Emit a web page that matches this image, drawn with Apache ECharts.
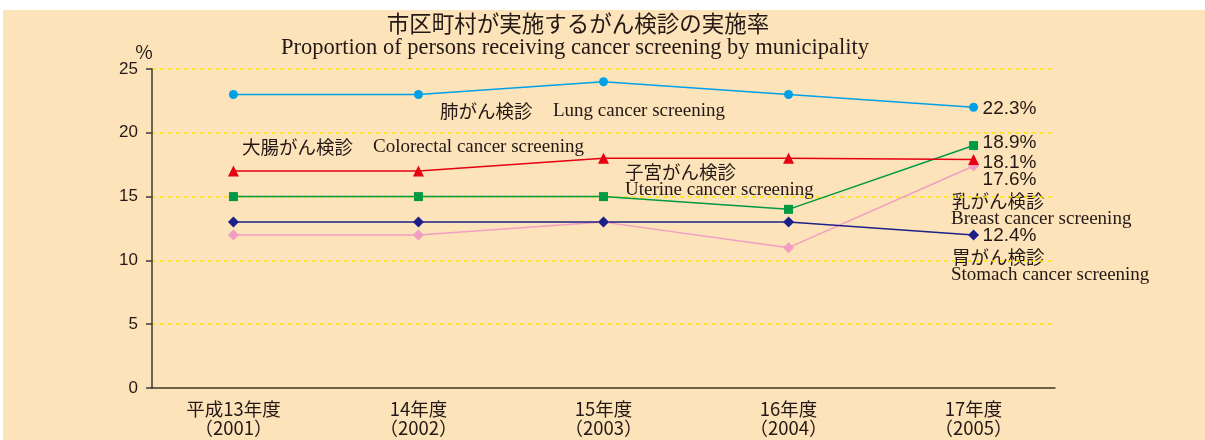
<!DOCTYPE html>
<html>
<head>
<meta charset="utf-8">
<script src="https://cdn.jsdelivr.net/npm/echarts@6/dist/echarts.min.js"></script>
<style>
html, body { margin: 0; padding: 0; background: #ffffff; }
#main { width: 1205px; height: 440px; }
</style>
</head>
<body>
<div id="main"></div>
<script>
var years = ['平成13年度\n（2001）', '14年度\n（2002）', '15年度\n（2003）', '16年度\n（2004）', '17年度\n（2005）'];
var yTicks = [0, 5, 10, 15, 20, 25];

var lung = [23, 23, 24, 23, 22];
var colorectal = [17, 17, 18, 18, 17.9];
var uterine = [15, 15, 15, 14, 19];
var stomach = [13, 13, 13, 13, 12];
var breast = [12, 12, 13, 11, 17.4];

var lungLast = '22.3%';
var colorectalLast = '18.1%';
var uterineLast = '18.9%';
var stomachLast = '12.4%';
var breastLast = '17.6%';

var jp = '"Noto Sans CJK JP", sans-serif';
var serif = '"Liberation Serif", "DejaVu Serif", serif';
var sans = '"Liberation Sans", Arial, sans-serif';
var ink = '#231815';

function pts(arr){
    return arr.map(function(v, i){ return [i, v]; });
}

function line(name, arr, color, symbol, size, last, dy){
    return {
        name: name,
        type: 'line',
        data: pts(arr),
        symbol: symbol,
        symbolSize: size,
        lineStyle: { color: color, width: 1.5 },
        itemStyle: { color: color },
        endLabel: {
            show: true,
            formatter: function(){ return last; },
            color: ink,
            fontFamily: sans,
            fontSize: 19,
            distance: 9,
            offset: [0, dy]
        },
        animation: false
    };
}

function txt(s, x, y, font){
    return {
        type: 'text',
        x: x,
        y: y,
        style: { text: s, font: font, fill: ink, textVerticalAlign: 'middle' }
    };
}

var myChart = echarts.init(document.getElementById('main'));

var option = {
    backgroundColor: '#fde3b9',
    grid: { left: 152, right: 150, top: 69, bottom: 52 },
    xAxis: {
        type: 'value',
        min: -0.44,
        max: 4.44,
        axisLine: { show: true, onZero: false, lineStyle: { color: '#3a3a3a', width: 1.5 } },
        axisTick: { show: false },
        splitLine: { show: false },
        axisLabel: {
            customValues: [0, 1, 2, 3, 4],
            formatter: function(v){ return years[Math.round(v)]; },
            color: ink,
            fontFamily: jp,
            fontSize: 18.5,
            lineHeight: 19,
            margin: 11
        }
    },
    yAxis: {
        type: 'value',
        min: 0,
        max: 25,
        interval: 5,
        axisLine: { show: true, onZero: false, lineStyle: { color: '#3a3a3a', width: 1.5 } },
        axisTick: { show: true, length: 6, lineStyle: { color: '#3a3a3a', width: 1.5 } },
        axisLabel: {
            color: ink,
            fontFamily: sans,
            fontSize: 17,
            margin: 14,
            formatter: function(v){ return yTicks.indexOf(v) >= 0 ? String(v) : ''; }
        },
        splitLine: { show: true, lineStyle: { color: '#ffe600', width: 1.5, type: [4, 4] } }
    },
    graphic: [
        { type: 'rect', shape: { x: 0, y: 0, width: 1205, height: 10 }, style: { fill: '#ffffff' } },
        { type: 'rect', shape: { x: 0, y: 0, width: 3, height: 440 }, style: { fill: '#ffffff' } },
        { type: 'text', x: 578, y: 23, style: { text: '市区町村が実施するがん検診の実施率', font: '22.5px ' + jp, fill: ink, textAlign: 'center', textVerticalAlign: 'middle' } },
        { type: 'text', x: 575, y: 48, style: { text: 'Proportion of persons receiving cancer screening by municipality', font: '22.5px ' + serif, fill: ink, textAlign: 'center', textVerticalAlign: 'middle' } },
        { type: 'text', x: 144, y: 52, style: { text: '%', font: '19px ' + jp, fill: ink, textAlign: 'center', textVerticalAlign: 'middle' } },
        txt('肺がん検診', 440, 111, '18.5px ' + jp),
        txt('Lung cancer screening', 553, 111, '19px ' + serif),
        txt('大腸がん検診', 242, 147, '18.5px ' + jp),
        txt('Colorectal cancer screening', 373, 147, '19px ' + serif),
        txt('子宮がん検診', 625, 172, '18.5px ' + jp),
        txt('Uterine cancer screening', 625, 190, '19px ' + serif),
        txt('乳がん検診', 952, 201, '18.5px ' + jp),
        txt('Breast cancer screening', 951, 219, '19px ' + serif),
        txt('胃がん検診', 952, 257, '18.5px ' + jp),
        txt('Stomach cancer screening', 951, 275, '19px ' + serif)
    ],
    series: [
        line('乳がん検診', breast, '#f19ec2', 'diamond', 11, breastLast, 14),
        line('胃がん検診', stomach, '#1d2088', 'diamond', 11, stomachLast, 1),
        line('子宮がん検診', uterine, '#009944', 'rect', 9, uterineLast, -3),
        line('大腸がん検診', colorectal, '#e60012', 'triangle', 11, colorectalLast, 3),
        line('肺がん検診', lung, '#00a0e9', 'circle', 9, lungLast, 1)
    ]
};
myChart.setOption(option);
</script>
</body>
</html>
